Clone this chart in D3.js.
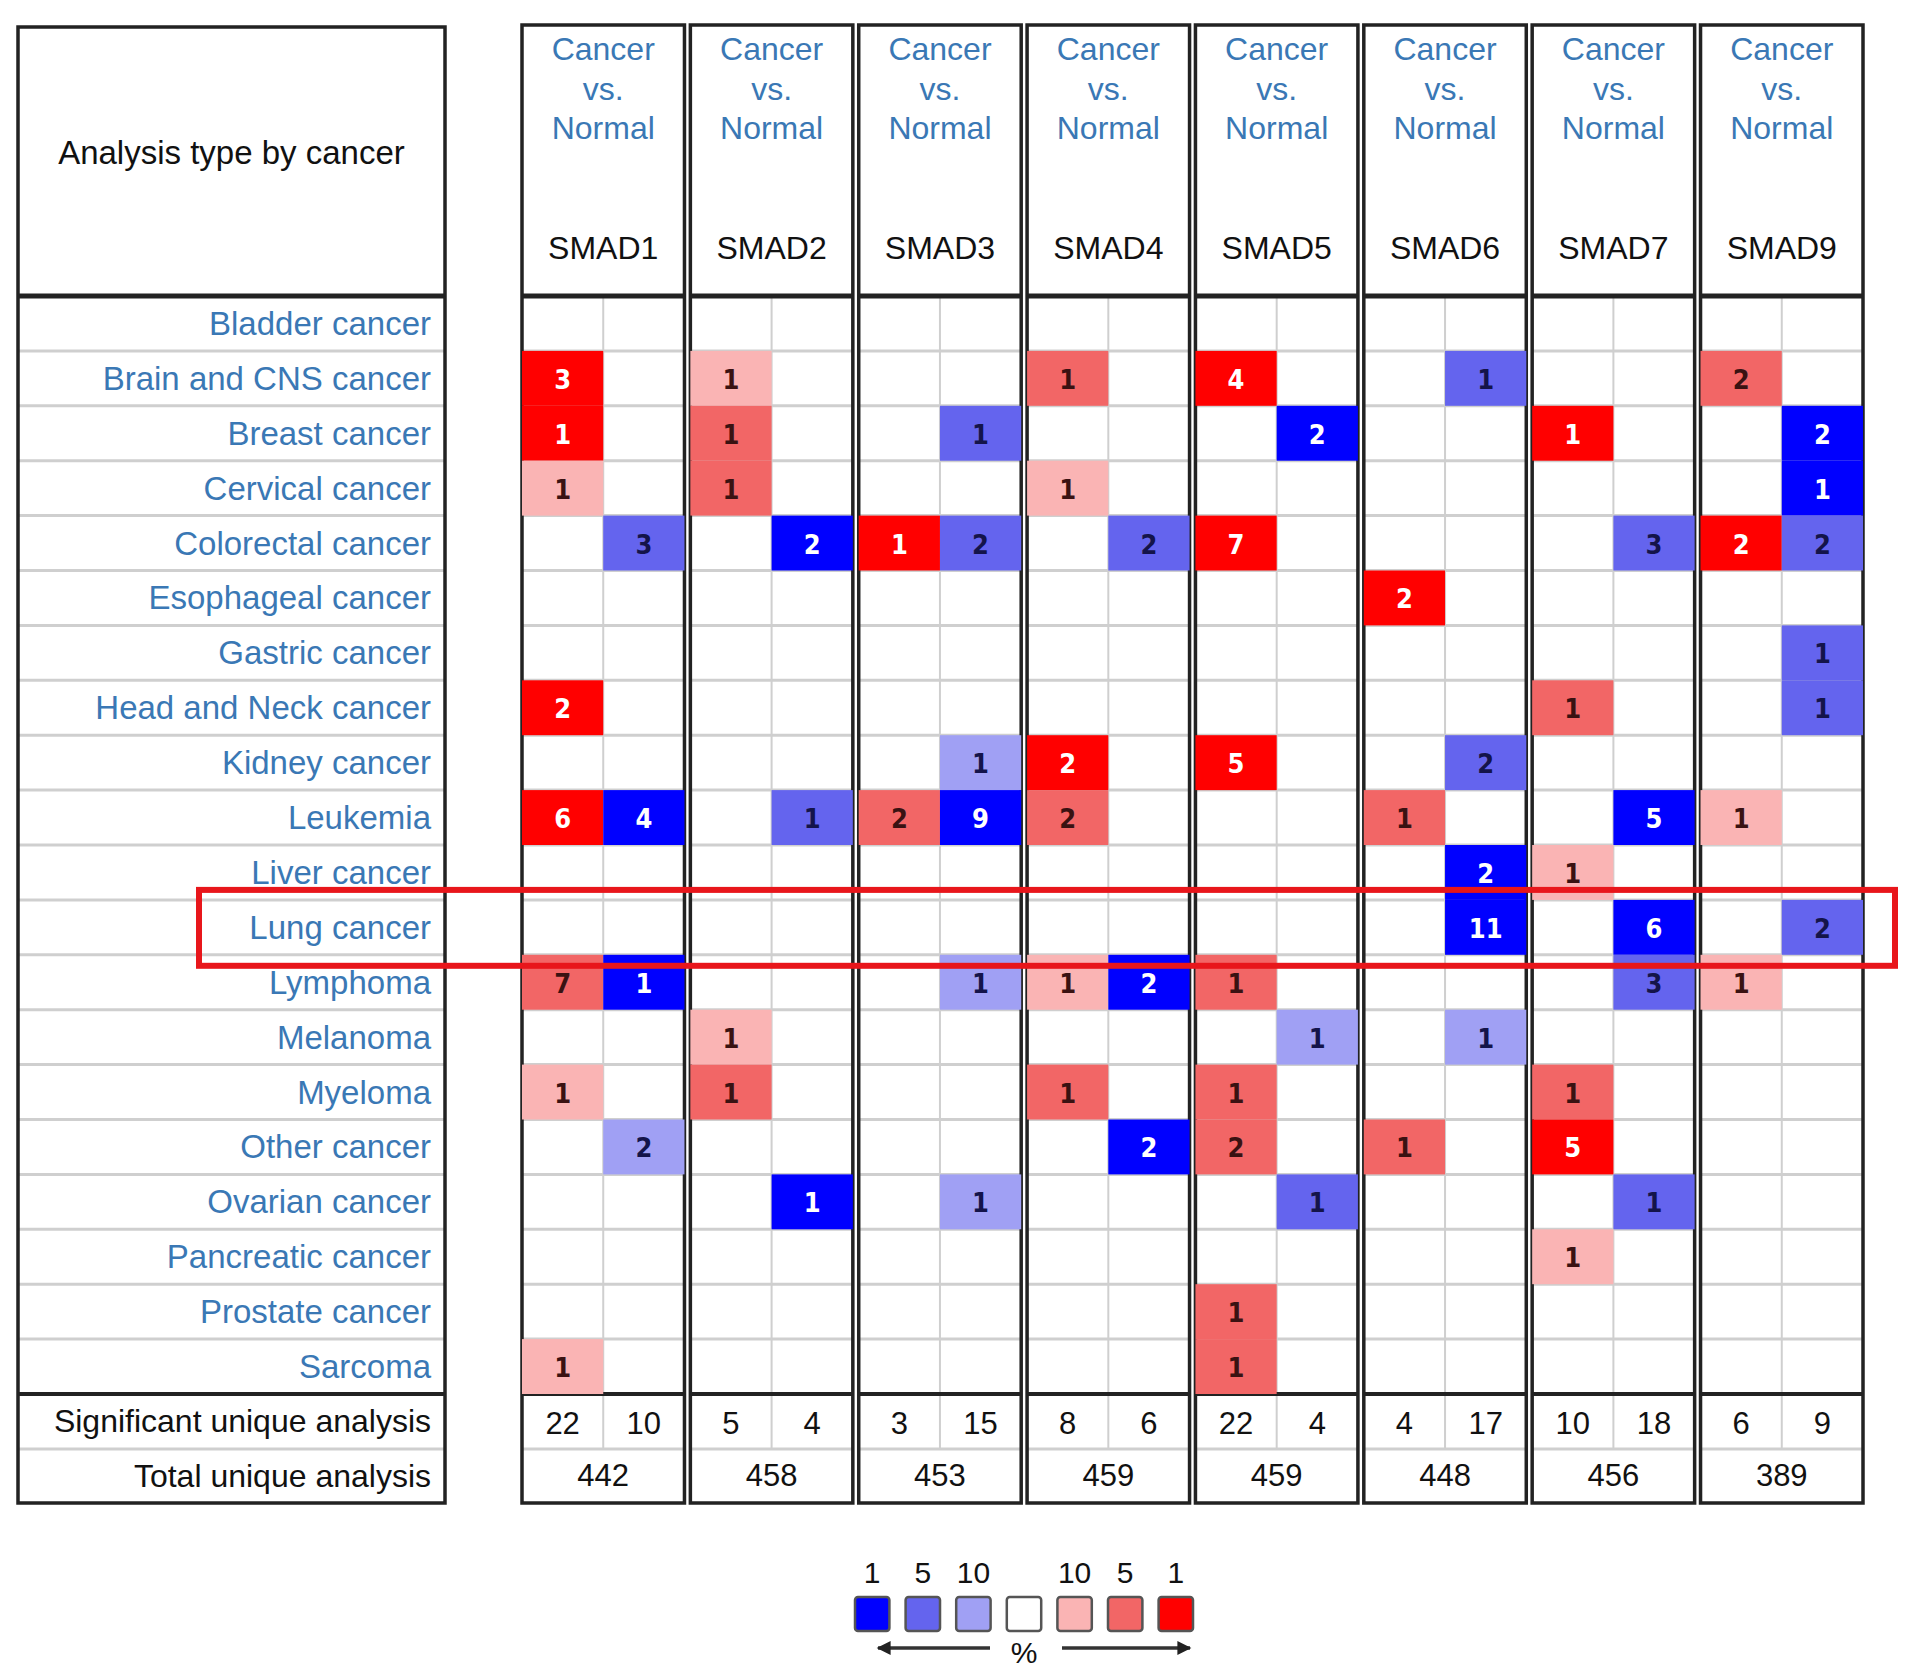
<!DOCTYPE html>
<html lang="en">
<head>
    <meta charset="UTF-8">
    <script src="https://d3js.org/d3.v7.min.js"></script>
    <style>
        body { margin: 0; background: white; }
        text { font-family: "Liberation Sans", Arial, sans-serif; }
    </style>
</head>
<body>
<script>
    // Data
    var cancers = ["Bladder cancer", "Brain and CNS cancer", "Breast cancer", "Cervical cancer",
        "Colorectal cancer", "Esophageal cancer", "Gastric cancer", "Head and Neck cancer",
        "Kidney cancer", "Leukemia", "Liver cancer", "Lung cancer", "Lymphoma", "Melanoma",
        "Myeloma", "Other cancer", "Ovarian cancer", "Pancreatic cancer", "Prostate cancer", "Sarcoma"];
    var genes = ["SMAD1", "SMAD2", "SMAD3", "SMAD4", "SMAD5", "SMAD6", "SMAD7", "SMAD9"];
    var directions = ["over", "under"];

    // [cancer, gene, direction, number of analyses, top-% level]
    var cells = [
        ["Brain and CNS cancer", "SMAD1", "over", 3, 1],
        ["Brain and CNS cancer", "SMAD2", "over", 1, 10],
        ["Brain and CNS cancer", "SMAD4", "over", 1, 5],
        ["Brain and CNS cancer", "SMAD5", "over", 4, 1],
        ["Brain and CNS cancer", "SMAD6", "under", 1, 5],
        ["Brain and CNS cancer", "SMAD9", "over", 2, 5],
        ["Breast cancer", "SMAD1", "over", 1, 1],
        ["Breast cancer", "SMAD2", "over", 1, 5],
        ["Breast cancer", "SMAD3", "under", 1, 5],
        ["Breast cancer", "SMAD5", "under", 2, 1],
        ["Breast cancer", "SMAD7", "over", 1, 1],
        ["Breast cancer", "SMAD9", "under", 2, 1],
        ["Cervical cancer", "SMAD1", "over", 1, 10],
        ["Cervical cancer", "SMAD2", "over", 1, 5],
        ["Cervical cancer", "SMAD4", "over", 1, 10],
        ["Cervical cancer", "SMAD9", "under", 1, 1],
        ["Colorectal cancer", "SMAD1", "under", 3, 5],
        ["Colorectal cancer", "SMAD2", "under", 2, 1],
        ["Colorectal cancer", "SMAD3", "over", 1, 1],
        ["Colorectal cancer", "SMAD3", "under", 2, 5],
        ["Colorectal cancer", "SMAD4", "under", 2, 5],
        ["Colorectal cancer", "SMAD5", "over", 7, 1],
        ["Colorectal cancer", "SMAD7", "under", 3, 5],
        ["Colorectal cancer", "SMAD9", "over", 2, 1],
        ["Colorectal cancer", "SMAD9", "under", 2, 5],
        ["Esophageal cancer", "SMAD6", "over", 2, 1],
        ["Gastric cancer", "SMAD9", "under", 1, 5],
        ["Head and Neck cancer", "SMAD1", "over", 2, 1],
        ["Head and Neck cancer", "SMAD7", "over", 1, 5],
        ["Head and Neck cancer", "SMAD9", "under", 1, 5],
        ["Kidney cancer", "SMAD3", "under", 1, 10],
        ["Kidney cancer", "SMAD4", "over", 2, 1],
        ["Kidney cancer", "SMAD5", "over", 5, 1],
        ["Kidney cancer", "SMAD6", "under", 2, 5],
        ["Leukemia", "SMAD1", "over", 6, 1],
        ["Leukemia", "SMAD1", "under", 4, 1],
        ["Leukemia", "SMAD2", "under", 1, 5],
        ["Leukemia", "SMAD3", "over", 2, 5],
        ["Leukemia", "SMAD3", "under", 9, 1],
        ["Leukemia", "SMAD4", "over", 2, 5],
        ["Leukemia", "SMAD6", "over", 1, 5],
        ["Leukemia", "SMAD7", "under", 5, 1],
        ["Leukemia", "SMAD9", "over", 1, 10],
        ["Liver cancer", "SMAD6", "under", 2, 1],
        ["Liver cancer", "SMAD7", "over", 1, 10],
        ["Lung cancer", "SMAD6", "under", 11, 1],
        ["Lung cancer", "SMAD7", "under", 6, 1],
        ["Lung cancer", "SMAD9", "under", 2, 5],
        ["Lymphoma", "SMAD1", "over", 7, 5],
        ["Lymphoma", "SMAD1", "under", 1, 1],
        ["Lymphoma", "SMAD3", "under", 1, 10],
        ["Lymphoma", "SMAD4", "over", 1, 10],
        ["Lymphoma", "SMAD4", "under", 2, 1],
        ["Lymphoma", "SMAD5", "over", 1, 5],
        ["Lymphoma", "SMAD7", "under", 3, 5],
        ["Lymphoma", "SMAD9", "over", 1, 10],
        ["Melanoma", "SMAD2", "over", 1, 10],
        ["Melanoma", "SMAD5", "under", 1, 10],
        ["Melanoma", "SMAD6", "under", 1, 10],
        ["Myeloma", "SMAD1", "over", 1, 10],
        ["Myeloma", "SMAD2", "over", 1, 5],
        ["Myeloma", "SMAD4", "over", 1, 5],
        ["Myeloma", "SMAD5", "over", 1, 5],
        ["Myeloma", "SMAD7", "over", 1, 5],
        ["Other cancer", "SMAD1", "under", 2, 10],
        ["Other cancer", "SMAD4", "under", 2, 1],
        ["Other cancer", "SMAD5", "over", 2, 5],
        ["Other cancer", "SMAD6", "over", 1, 5],
        ["Other cancer", "SMAD7", "over", 5, 1],
        ["Ovarian cancer", "SMAD2", "under", 1, 1],
        ["Ovarian cancer", "SMAD3", "under", 1, 10],
        ["Ovarian cancer", "SMAD5", "under", 1, 5],
        ["Ovarian cancer", "SMAD7", "under", 1, 5],
        ["Pancreatic cancer", "SMAD7", "over", 1, 10],
        ["Prostate cancer", "SMAD5", "over", 1, 5],
        ["Sarcoma", "SMAD1", "over", 1, 10],
        ["Sarcoma", "SMAD5", "over", 1, 5]
    ];

    var sigOver = [22, 5, 3, 8, 22, 4, 10, 6];
    var sigUnder = [10, 4, 15, 6, 4, 17, 18, 9];
    var totals = [442, 458, 453, 459, 459, 448, 456, 389];

    var legendDir = ["under", "under", "under", "none", "over", "over", "over"];
    var legendLevel = [1, 5, 10, 0, 10, 5, 1];
    var legendLabels = ["1", "5", "10", "", "10", "5", "1"];

    var highlight = "Lung cancer";

    // Set up SVG
    var width = 1913, height = 1679;
    var svg = d3.select("body").append("svg")
        .attr("width", width)
        .attr("height", height);

    var blueText = "#3a78b5";
    var gridGray = "#cfcfcf";

    // Scales
    var headTop = 25, headBottom = 296, dataBottom = 1394, footMid = 1449, footBottom = 1503;
    var y = d3.scaleBand().domain(cancers).range([headBottom, dataBottom]);
    var yFoot = d3.scaleBand().domain(["sig", "total"]).range([dataBottom, footBottom]);
    var xGene = d3.scaleBand().domain(genes).range([522, 1863]).paddingInner(0.035);
    var xDir = d3.scaleBand().domain(directions).range([0, xGene.bandwidth()]);

    var color = d3.scaleOrdinal()
        .domain(["over-1", "over-5", "over-10", "under-1", "under-5", "under-10", "none-0"])
        .range(["#ff0000", "#f26666", "#fab4b4", "#0000ff", "#6464ee", "#a0a0f4", "#ffffff"]);

    // ---- left table ----
    var leftX0 = 18, leftX1 = 445, labelX = 431;
    var left = svg.append("g");

    left.selectAll("line.row")
        .data(cancers.slice(1))
        .enter().append("line")
        .attr("x1", leftX0).attr("x2", leftX1)
        .attr("y1", function (d) { return y(d); })
        .attr("y2", function (d) { return y(d); })
        .style("stroke", gridGray).style("stroke-width", 3);

    left.append("line")
        .attr("x1", leftX0).attr("x2", leftX1)
        .attr("y1", footMid).attr("y2", footMid)
        .style("stroke", gridGray).style("stroke-width", 3);

    left.append("rect")
        .attr("x", leftX0).attr("y", 27)
        .attr("width", leftX1 - leftX0).attr("height", footBottom - 27)
        .style("fill", "none").style("stroke", "#222").style("stroke-width", 3.5);

    [headBottom, dataBottom].forEach(function (yy) {
        left.append("line")
            .attr("x1", leftX0).attr("x2", leftX1)
            .attr("y1", yy).attr("y2", yy)
            .style("stroke", "#222").style("stroke-width", yy === headBottom ? 5 : 4);
    });

    left.append("text")
        .attr("x", (leftX0 + leftX1) / 2).attr("y", 152)
        .attr("text-anchor", "middle").attr("dominant-baseline", "central")
        .style("font-size", "33px").style("fill", "#111")
        .text("Analysis type by cancer");

    left.selectAll("text.label")
        .data(cancers)
        .enter().append("text")
        .attr("class", "label")
        .attr("x", labelX)
        .attr("y", function (d) { return y(d) + y.bandwidth() / 2; })
        .attr("text-anchor", "end").attr("dominant-baseline", "central")
        .style("font-size", "33px").style("fill", blueText)
        .text(function (d) { return d; });

    left.append("text")
        .attr("x", labelX).attr("y", yFoot("sig") + yFoot.bandwidth() / 2)
        .attr("text-anchor", "end").attr("dominant-baseline", "central")
        .style("font-size", "32px").style("fill", "#111")
        .text("Significant unique analysis");
    left.append("text")
        .attr("x", labelX).attr("y", yFoot("total") + yFoot.bandwidth() / 2)
        .attr("text-anchor", "end").attr("dominant-baseline", "central")
        .style("font-size", "32px").style("fill", "#111")
        .text("Total unique analysis");

    // ---- gene groups ----
    var groups = svg.selectAll("g.gene")
        .data(genes)
        .enter().append("g")
        .attr("class", "gene")
        .attr("transform", function (d) { return "translate(" + xGene(d) + ",0)"; });

    var bw = xGene.bandwidth();

    // grid lines
    groups.each(function (g) {
        var grp = d3.select(this);
        grp.selectAll("line.row")
            .data(cancers.slice(1))
            .enter().append("line")
            .attr("x1", 0).attr("x2", bw)
            .attr("y1", function (d) { return y(d); })
            .attr("y2", function (d) { return y(d); })
            .style("stroke", gridGray).style("stroke-width", 3);
        grp.append("line")
            .attr("x1", xDir("under")).attr("x2", xDir("under"))
            .attr("y1", headBottom).attr("y2", footMid)
            .style("stroke", gridGray).style("stroke-width", 2);
        grp.append("line")
            .attr("x1", 0).attr("x2", bw)
            .attr("y1", footMid).attr("y2", footMid)
            .style("stroke", gridGray).style("stroke-width", 3);
    });

    // coloured cells
    var cellG = svg.selectAll("g.cell")
        .data(cells)
        .enter().append("g")
        .attr("class", "cell")
        .attr("transform", function (d) {
            return "translate(" + (xGene(d[1]) + xDir(d[2])) + "," + y(d[0]) + ")";
        });

    cellG.append("rect")
        .attr("width", xDir.bandwidth())
        .attr("height", y.bandwidth())
        .style("fill", function (d) { return color(d[2] + "-" + d[4]); });

    cellG.append("text")
        .attr("x", xDir.bandwidth() / 2)
        .attr("y", y.bandwidth() / 2 + 1)
        .attr("text-anchor", "middle").attr("dominant-baseline", "central")
        .style("font-family", "'DejaVu Sans Condensed', 'DejaVu Sans', sans-serif")
        .style("font-weight", "bold")
        .style("font-size", "27px")
        .style("fill", function (d) {
            if (d[4] === 1) return "#ffffff";
            return d[2] === "over" ? "#3a1212" : "#14144a";
        })
        .text(function (d) { return d[3]; });

    // borders and header text
    groups.append("rect")
        .attr("x", 0).attr("y", headTop)
        .attr("width", bw).attr("height", footBottom - headTop)
        .style("fill", "none").style("stroke", "#222").style("stroke-width", 3.5);

    groups.append("line")
        .attr("x1", 0).attr("x2", bw)
        .attr("y1", headBottom).attr("y2", headBottom)
        .style("stroke", "#222").style("stroke-width", 5);
    groups.append("line")
        .attr("x1", 0).attr("x2", bw)
        .attr("y1", dataBottom).attr("y2", dataBottom)
        .style("stroke", "#222").style("stroke-width", 4);

    var headLines = [["Cancer", 49], ["vs.", 89], ["Normal", 128]];
    headLines.forEach(function (h) {
        groups.append("text")
            .attr("x", bw / 2).attr("y", h[1])
            .attr("text-anchor", "middle").attr("dominant-baseline", "central")
            .style("font-size", "32px").style("fill", blueText)
            .text(h[0]);
    });

    groups.append("text")
        .attr("x", bw / 2).attr("y", 248)
        .attr("text-anchor", "middle").attr("dominant-baseline", "central")
        .style("font-size", "32px").style("fill", "#111")
        .text(function (d) { return d; });

    groups.append("text")
        .attr("x", xDir("over") + xDir.bandwidth() / 2)
        .attr("y", yFoot("sig") + yFoot.bandwidth() / 2 + 2)
        .attr("text-anchor", "middle").attr("dominant-baseline", "central")
        .style("font-size", "31px").style("fill", "#111")
        .text(function (d, i) { return sigOver[i]; });
    groups.append("text")
        .attr("x", xDir("under") + xDir.bandwidth() / 2)
        .attr("y", yFoot("sig") + yFoot.bandwidth() / 2 + 2)
        .attr("text-anchor", "middle").attr("dominant-baseline", "central")
        .style("font-size", "31px").style("fill", "#111")
        .text(function (d, i) { return sigUnder[i]; });
    groups.append("text")
        .attr("x", bw / 2)
        .attr("y", yFoot("total") + yFoot.bandwidth() / 2)
        .attr("text-anchor", "middle").attr("dominant-baseline", "central")
        .style("font-size", "31px").style("fill", "#111")
        .text(function (d, i) { return totals[i]; });

    // highlight box around the lung row
    svg.append("rect")
        .attr("x", 199).attr("y", y(highlight) - 10)
        .attr("width", 1895 - 199).attr("height", y.bandwidth() + 21)
        .style("fill", "none").style("stroke", "#e8161b").style("stroke-width", 6);

    // ---- legend ----
    var xLeg = d3.scaleBand().domain(d3.range(legendLevel.length)).range([855, 1193]).paddingInner(0.32);
    var leg = svg.append("g");

    leg.selectAll("rect")
        .data(legendLevel)
        .enter().append("rect")
        .attr("x", function (d, i) { return xLeg(i); })
        .attr("y", 1597)
        .attr("width", xLeg.bandwidth()).attr("height", 34)
        .attr("rx", 3)
        .style("fill", function (d, i) { return color(legendDir[i] + "-" + d); })
        .style("stroke", "#555").style("stroke-width", 2.5);

    leg.selectAll("text.num")
        .data(legendLabels)
        .enter().append("text")
        .attr("class", "num")
        .attr("x", function (d, i) { return xLeg(i) + xLeg.bandwidth() / 2; })
        .attr("y", 1572)
        .attr("text-anchor", "middle").attr("dominant-baseline", "central")
        .style("font-size", "30px").style("fill", "#111")
        .text(function (d) { return d; });

    var arrowY = 1648;
    var defs = svg.append("defs");
    defs.append("marker")
        .attr("id", "head")
        .attr("viewBox", "0 0 10 10")
        .attr("refX", 9).attr("refY", 5)
        .attr("markerWidth", 5).attr("markerHeight", 4)
        .attr("orient", "auto-start-reverse")
        .append("path").attr("d", "M0,0L10,5L0,10Z").style("fill", "#222");

    leg.append("line")
        .attr("x1", 990).attr("x2", 878)
        .attr("y1", arrowY).attr("y2", arrowY)
        .style("stroke", "#333").style("stroke-width", 3.5)
        .attr("marker-end", "url(#head)");
    leg.append("line")
        .attr("x1", 1062).attr("x2", 1190)
        .attr("y1", arrowY).attr("y2", arrowY)
        .style("stroke", "#333").style("stroke-width", 3.5)
        .attr("marker-end", "url(#head)");
    leg.append("text")
        .attr("x", xLeg(3) + xLeg.bandwidth() / 2).attr("y", arrowY + 4)
        .attr("text-anchor", "middle").attr("dominant-baseline", "central")
        .style("font-size", "30px").style("fill", "#111")
        .text("%");
</script>
</body>
</html>
